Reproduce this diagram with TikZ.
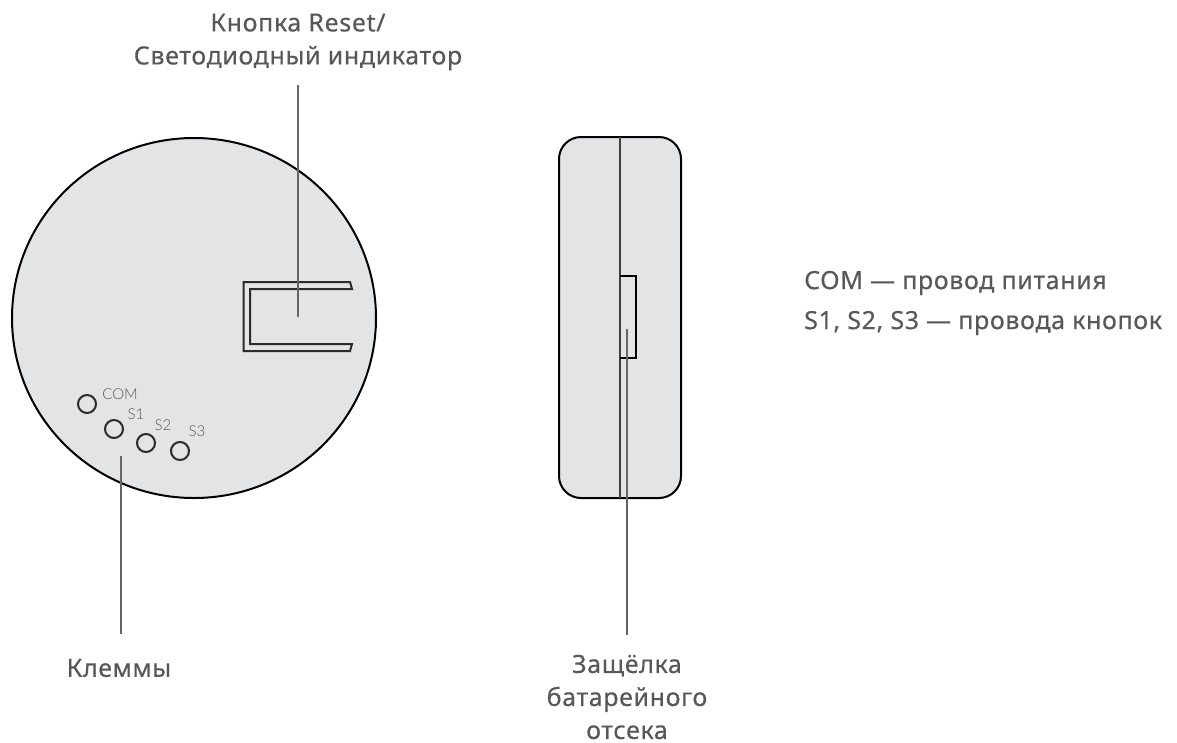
\documentclass[tikz,border=0pt]{standalone}
\usepackage{fontspec}
\setmainfont{Noto Sans}[BoldFont={Noto Sans},BoldFeatures={FakeBold=0.4},LetterSpace=2.5]
\newfontfamily\lightfont{Lato Light}
\definecolor{bodygrey}{HTML}{E3E4E6}
\definecolor{leadergrey}{HTML}{666666}
\definecolor{textgrey}{HTML}{585858}
\definecolor{inkdark}{HTML}{2B2B2B}
\tikzset{
  x=1pt,y=-1pt,
  body/.style={draw=black,fill=bodygrey,line width=2pt},
  leader/.style={draw=leadergrey,line width=2pt},
  ink/.style={draw=inkdark,line width=2pt},
  hole/.style={draw=inkdark,line width=2pt,circle,minimum size=18pt,inner sep=0pt},
  callout/.style={text=textgrey,font=\bfseries\fontsize{25}{33}\selectfont,align=center,inner sep=0pt},
  pinlabel/.style={text=leadergrey!85!black,font=\lightfont\fontsize{15}{17}\selectfont,inner sep=0pt}
}
\begin{document}
\begin{tikzpicture}
\useasboundingbox (0,0) rectangle (1177,742);
% round device
\draw[body] (194,318) ellipse [x radius=182,y radius=180];
\draw[ink,line join=miter] (350,282) -- (243.5,282) -- (243.5,351) -- (350,351) -- (352,344) -- (250,344) -- (250,289) -- (352,289) -- cycle;
\node[hole] (com) at (87,404) {};
\node[hole] (sone) at (114,429) {};
\node[hole] (stwo) at (146,443) {};
\node[hole] (sthree) at (180,451) {};
\node[pinlabel] (lcom) at (120,394) {COM};
\node[pinlabel] (lsone) at (136,414) {S1};
\node[pinlabel] (lstwo) at (163,425) {S2};
\node[pinlabel] (lsthree) at (197,431) {S3};
% side view
\draw[body,rounded corners=22pt] (559,137) rectangle (681,498);
\coordinate (midtop) at (620,137);
\coordinate (midbot) at (620,498);
\draw[draw=inkdark!90,line width=2pt] (midtop) -- (midbot);
\draw[draw=black,line width=2pt] (620,276) -- (636,276) -- (636,358) -- (620,358);
% callouts
\node[callout] (reset) at (298,42) {Кнопка Reset/\\Светодиодный индикатор};
\node[callout] (klem) at (119,668) {Клеммы};
\node[callout] (latch) at (627,697) {Защёлка\\батарейного\\отсека};
\node[callout,align=left,anchor=west,font=\bfseries\fontsize{25}{40}\selectfont] (legend) at (804,303) {COM — провод питания\\S1, S2, S3 — провода кнопок};
\coordinate (resetend) at (298,317);
\coordinate (klemend) at (121,456);
\coordinate (latchend) at (626.5,329);
\draw[leader] (298,85) coordinate (resetstart) -- (resetend);
\draw[leader] (121,634) coordinate (klemstart) -- (klemend);
\draw[leader] (626.5,635) coordinate (latchstart) -- (latchend);
\end{tikzpicture}
\end{document}
